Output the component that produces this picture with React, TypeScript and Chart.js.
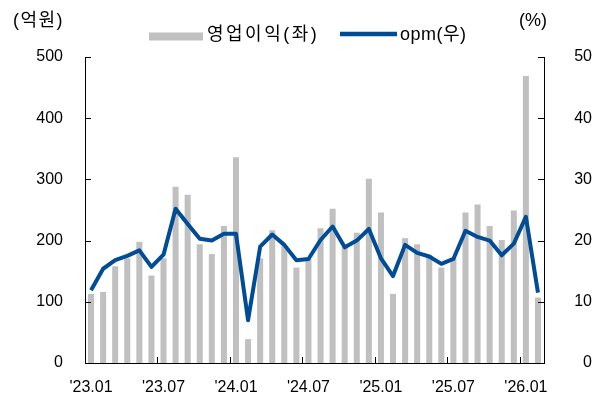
import React, { useEffect, useRef } from 'react';
import { Chart, registerables } from 'chart.js';

Chart.register(...registerables);

const categories = [
  "'23.01", "'23.02", "'23.03", "'23.04", "'23.05", "'23.06", "'23.07", "'23.08", "'23.09", "'23.10", "'23.11", "'23.12",
  "'24.01", "'24.02", "'24.03", "'24.04", "'24.05", "'24.06", "'24.07", "'24.08", "'24.09", "'24.10", "'24.11", "'24.12",
  "'25.01", "'25.02", "'25.03", "'25.04", "'25.05", "'25.06", "'25.07", "'25.08", "'25.09", "'25.10", "'25.11", "'25.12",
  "'26.01", "'26.02",
];

// 영업이익 (억원)
const operatingProfit = [
  113, 116, 158, 171, 198, 143, 171, 288, 275, 194, 178, 224,
  336, 39, 171, 217, 192, 156, 170, 220, 252, 190, 213, 301,
  246, 113, 204, 194, 176, 156, 171, 246, 259, 224, 201, 249,
  469, 107,
];

// opm (%)
const opmPercent = [
  11.9, 15.4, 16.8, 17.5, 18.4, 15.7, 17.7, 25.2, 22.7, 20.3, 20.0, 21.1,
  21.1, 7.0, 19.0, 21.0, 19.3, 16.8, 17.0, 20.1, 22.3, 18.9, 20.0, 21.9,
  17.1, 14.2, 19.3, 18.0, 17.4, 16.2, 17.0, 21.6, 20.6, 20.0, 17.6, 19.5,
  23.9, 11.5,
];

const leftTicks = [0, 100, 200, 300, 400, 500];
const rightTicks = [0, 10, 20, 30, 40, 50];
const seriesNames = ['영업이익(좌)', 'opm(우)'];
const leftUnit = '(억원)';
const rightUnit = '(%)';
const labelEvery = 6;

const FONT = "'Liberation Sans', 'Noto Sans CJK KR', Arial, sans-serif";
const BAR_COLOR = '#C0C0C0';
const LINE_COLOR = '#004C97';

export default function App() {
  const ref = useRef<HTMLCanvasElement>(null);

  useEffect(() => {
    document.body.style.margin = '0';
    const canvas = ref.current;
    if (!canvas) return;

    const extras = {
      id: 'extras',
      afterDraw(chart: any) {
        const ctx = chart.ctx;
        const area = chart.chartArea;
        const xs = chart.scales.x;
        const yl = chart.scales.yL;
        const yr = chart.scales.yR;
        ctx.save();
        ctx.strokeStyle = '#000';
        ctx.lineWidth = 1;
        yl.ticks.forEach((t: any) => {
          const py = Math.round(yl.getPixelForValue(t.value)) + 0.5;
          ctx.beginPath();
          ctx.moveTo(area.left, py);
          ctx.lineTo(area.left + 6, py);
          ctx.stroke();
        });
        yr.ticks.forEach((t: any) => {
          const py = Math.round(yr.getPixelForValue(t.value)) + 0.5;
          ctx.beginPath();
          ctx.moveTo(area.right, py);
          ctx.lineTo(area.right - 6, py);
          ctx.stroke();
        });
        for (let i = labelEvery; i < categories.length; i += labelEvery) {
          const px = Math.round((xs.getPixelForValue(i - 1) + xs.getPixelForValue(i)) / 2) + 0.5;
          ctx.beginPath();
          ctx.moveTo(px, area.bottom);
          ctx.lineTo(px, area.bottom - 6);
          ctx.stroke();
        }

        // unit titles
        ctx.fillStyle = '#000';
        ctx.font = `18px ${FONT}`;
        ctx.textBaseline = 'middle';
        ctx.textAlign = 'left';
        (ctx as any).letterSpacing = '1.5px';
        ctx.fillText(leftUnit, 13, 21);
        (ctx as any).letterSpacing = '0px';
        ctx.fillText(rightUnit, 519, 21);

        // legend
        const ly = 35;
        const ds0 = chart.data.datasets[0];
        const ds1 = chart.data.datasets[1];
        ctx.fillStyle = ds0.backgroundColor;
        ctx.fillRect(149, 32.5, 54, 8);
        ctx.fillStyle = '#000';
        (ctx as any).letterSpacing = '2.5px';
        ctx.fillText(ds0.label, 207, ly);
        ctx.strokeStyle = ds1.borderColor;
        ctx.lineWidth = 4.5;
        ctx.beginPath();
        ctx.moveTo(340, 34);
        ctx.lineTo(397, 34);
        ctx.stroke();
        ctx.fillStyle = '#000';
        (ctx as any).letterSpacing = '0.5px';
        ctx.fillText(ds1.label, 400, ly);
        ctx.restore();
      },
    };

    const chart = new Chart(canvas, {
      type: 'bar',
      data: {
        labels: categories,
        datasets: [
          {
            type: 'bar',
            label: seriesNames[0],
            data: operatingProfit,
            backgroundColor: BAR_COLOR,
            barPercentage: 0.5,
            categoryPercentage: 1.0,
            yAxisID: 'yL',
            order: 2,
          },
          {
            type: 'line',
            label: seriesNames[1],
            data: opmPercent,
            borderColor: LINE_COLOR,
            backgroundColor: LINE_COLOR,
            borderWidth: 4,
            pointRadius: 0,
            tension: 0,
            borderJoinStyle: 'round',
            yAxisID: 'yR',
            order: 1,
          },
        ],
      } as any,
      options: {
        responsive: false,
        animation: false,
        layout: { padding: { top: 57, left: 0, right: 0, bottom: 0 } },
        plugins: {
          legend: { display: false },
          tooltip: { enabled: false },
        },
        scales: {
          x: {
            offset: true,
            grid: { display: false, drawTicks: false },
            border: { display: true, color: '#000', width: 1 },
            ticks: {
              autoSkip: false,
              maxRotation: 0,
              minRotation: 0,
              padding: 15,
              color: '#000',
              font: { family: FONT, size: 16 },
              callback: (_v: any, i: number) => (i % labelEvery === 0 ? categories[i] : ''),
            },
            afterFit: (s: any) => { s.height = 38; },
          },
          yL: {
            position: 'left',
            min: leftTicks[0],
            max: leftTicks[leftTicks.length - 1],
            grid: { display: false, drawTicks: false },
            border: { display: true, color: '#000', width: 1 },
            afterBuildTicks: (s: any) => { s.ticks = leftTicks.map((v) => ({ value: v })); },
            ticks: {
              padding: 22,
              color: '#000',
              font: { family: FONT, size: 16 },
            },
            afterFit: (s: any) => { s.width = 85; },
          },
          yR: {
            position: 'right',
            min: rightTicks[0],
            max: rightTicks[rightTicks.length - 1],
            grid: { display: false, drawTicks: false },
            border: { display: true, color: '#000', width: 1 },
            afterBuildTicks: (s: any) => { s.ticks = rightTicks.map((v) => ({ value: v })); },
            ticks: {
              padding: 9,
              crossAlign: 'far',
              color: '#000',
              font: { family: FONT, size: 16 },
            },
            afterFit: (s: any) => { s.width = 48; },
          },
        },
      } as any,
      plugins: [extras],
    });

    return () => chart.destroy();
  }, []);

  return <canvas ref={ref} width={592} height={401} style={{ display: 'block' }} />;
}
